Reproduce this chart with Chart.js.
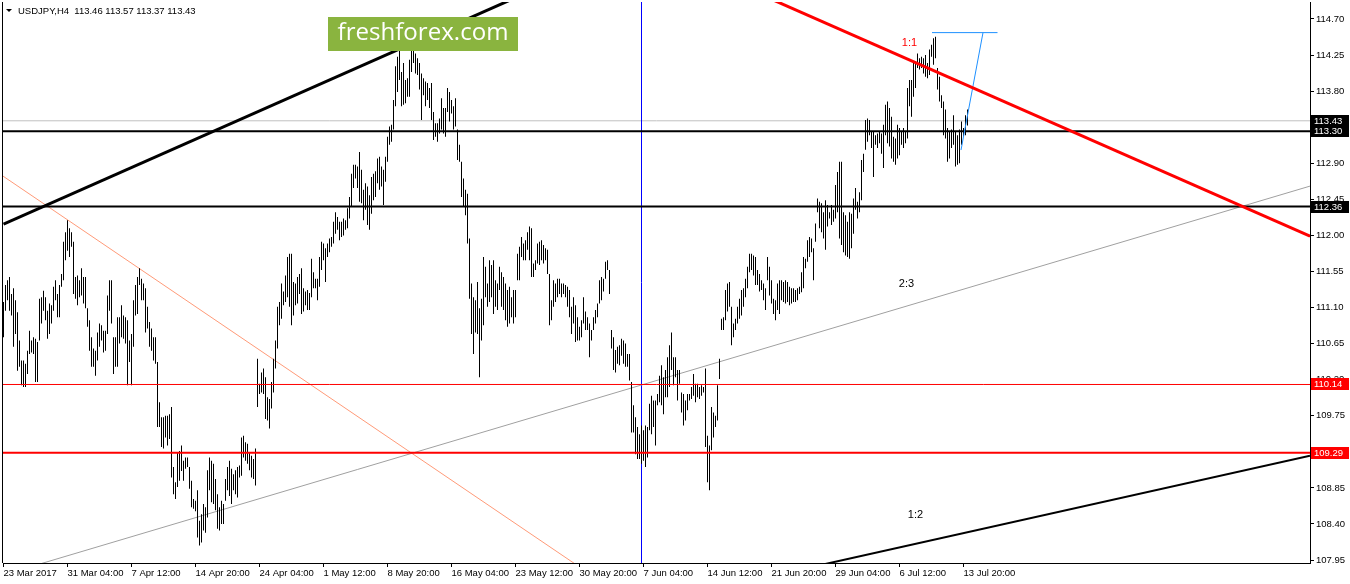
<!DOCTYPE html>
<html>
<head>
<meta charset="utf-8">
<script src="https://cdn.jsdelivr.net/npm/chart.js@4/dist/chart.umd.min.js"></script>
<style>
html, body { margin: 0; padding: 0; background: #fff; }
#wrap { width: 1350px; height: 584px; }
</style>
</head>
<body>
<div id="wrap"><canvas id="usdjpy"></canvas></div>
<script>
// USDJPY H4 bars, high / low per bar
const highs = [
  111.17,111.38,111.44,111.48,111.27,111.34,111.19,111.04,110.69,110.44,
  110.44,110.40,110.56,110.81,110.69,110.73,110.71,110.67,111.21,111.23,
  111.31,111.23,111.06,111.15,111.13,111.36,111.44,111.27,111.38,111.52,
  111.92,112.04,112.19,112.09,112.04,111.92,111.48,111.50,111.44,111.59,
  111.48,111.48,111.09,110.94,110.73,110.59,110.56,110.79,110.90,110.88,
  110.81,110.81,111.25,111.44,111.44,110.73,110.73,110.98,110.98,111.13,
  111.00,110.98,110.94,110.69,110.77,111.19,111.38,111.48,111.59,111.46,
  111.40,111.34,111.11,110.92,110.84,110.73,110.73,110.42,109.92,109.73,
  109.73,109.75,109.75,109.77,109.86,109.11,108.92,109.29,109.31,109.38,
  109.19,109.23,109.23,109.11,108.94,108.71,108.69,
  108.82,108.44,108.52,108.65,108.61,109.07,109.23,109.19,109.15,108.96,
  108.77,108.61,108.69,108.65,108.96,109.11,109.19,109.09,109.02,109.07,
  109.11,109.13,109.48,109.50,109.42,109.40,109.29,109.25,109.21,109.34,
  110.46,110.15,110.29,110.34,110.23,109.98,109.96,110.17,110.46,110.69,
  111.11,111.17,111.40,111.30,111.50,111.73,111.77,111.77,111.42,111.40,
  111.48,111.52,111.59,111.34,111.30,111.32,111.28,111.71,111.54,111.46,
  111.46,111.73,111.92,111.90,111.84,111.90,111.96,111.98,112.17,112.29,
  112.23,112.17,112.17,112.21,112.19,112.34,112.48,112.77,112.88,112.88,
  112.86,113.04,112.82,112.57,112.65,112.61,112.50,112.73,112.77,112.80,
  112.96,112.98,112.86,112.82,112.98,113.23,113.36,113.38,113.69,
  114.11,114.23,114.32,114.04,114.15,113.94,113.96,114.19,114.32,114.32,
  114.27,114.21,114.15,114.02,113.96,113.92,113.90,113.84,113.90,113.54,
  113.40,113.40,113.46,113.71,113.59,113.59,113.84,113.79,113.69,113.61,
  113.71,113.32,113.13,112.92,112.71,112.57,112.52,111.96,111.40,111.23,
  111.19,111.42,111.09,111.21,111.73,111.61,111.40,111.69,111.63,111.69,
  111.44,111.40,111.61,111.54,111.48,111.40,111.32,111.36,111.23,111.32,
  111.32,111.77,111.86,111.98,111.90,111.94,112.04,112.11,112.09,111.65,
  111.69,111.90,111.92,111.94,111.88,111.84,111.82,111.52,111.19,111.44,
  111.40,111.46,111.46,111.40,111.40,111.38,111.36,111.32,111.11,111.23,
  111.13,110.98,110.86,110.94,111.23,111.05,110.98,110.90,
  110.82,110.98,111.07,111.15,111.44,111.48,111.46,111.67,111.69,111.57,
  110.82,110.73,110.57,110.61,110.63,110.71,110.69,110.65,110.52,110.52,
  110.17,109.88,109.73,109.61,109.52,109.63,109.57,109.63,109.61,109.90,
  110.00,109.94,109.94,110.02,110.25,110.38,110.23,110.32,110.48,110.63,
  110.79,110.48,110.48,110.32,110.32,110.04,110.02,109.94,110.02,110.02,
  110.11,110.27,110.15,110.15,110.11,110.13,110.11,110.34,109.50,109.38,
  109.86,109.79,109.75,110.13,110.46,110.96,110.98,111.32,111.40,111.42,
  111.11,110.90,110.96,111.11,111.21,111.32,111.34,111.46,111.61,111.77,
  111.77,111.75,111.73,111.57,111.52,111.44,111.40,111.34,111.73,111.61,
  111.44,111.21,111.19,111.40,111.44,111.44,
  111.42,111.44,111.42,111.36,111.34,111.34,111.32,111.34,111.36,111.54,
  111.73,111.71,111.94,111.98,111.96,111.84,112.15,112.46,112.42,112.40,
  112.29,112.44,112.38,112.29,112.38,112.32,112.63,112.79,112.92,112.92,
  112.29,112.25,112.17,112.29,112.27,112.46,112.59,112.42,112.54,112.94,
  113.02,113.44,113.46,113.44,113.29,113.29,113.25,113.27,113.29,113.27,
  113.38,113.63,113.67,113.59,113.48,113.23,113.21,113.38,113.34,113.29,
  113.34,113.29,113.84,113.94,113.94,114.15,114.17,114.27,114.21,114.23,
  114.21,114.25,114.15,114.32,114.38,114.46,114.48,114.09,113.98,113.75,
  113.67,113.57,113.34,113.29,113.32,113.50,113.29,113.25,113.32,113.42,
  113.34,113.50,113.57
];
const lows = [
  110.73,111.06,111.19,111.06,111.00,110.61,110.77,110.31,110.36,110.13,
  110.11,110.11,110.27,110.52,110.54,110.52,110.17,110.17,110.69,110.90,
  111.06,110.94,110.71,110.77,110.90,111.06,111.19,110.98,110.98,111.36,
  111.44,111.69,111.81,111.73,111.86,111.27,111.21,111.13,111.23,111.25,
  111.15,111.09,110.86,110.56,110.36,110.36,110.25,110.44,110.61,110.69,
  110.54,110.56,110.77,111.06,110.90,110.27,110.36,110.36,110.65,110.73,
  110.71,110.65,110.13,110.42,110.13,110.61,111.00,111.02,111.38,111.19,
  111.19,110.79,110.84,110.61,110.56,110.44,110.40,109.61,109.61,109.36,
  109.34,109.48,109.38,109.46,108.98,108.77,108.71,108.86,108.94,109.06,
  108.94,109.09,109.11,108.84,108.61,108.59,108.56,
  108.23,108.13,108.17,108.32,108.29,108.48,108.82,108.67,108.65,108.57,
  108.34,108.32,108.40,108.40,108.69,108.82,108.75,108.65,108.82,108.77,
  108.73,108.98,109.00,109.23,109.19,109.15,109.07,108.98,108.96,108.88,
  109.86,110.02,110.04,110.02,109.71,109.69,109.59,109.84,110.04,110.34,
  110.59,110.88,110.96,111.13,111.17,111.23,111.11,110.88,111.00,111.13,
  111.15,111.27,111.02,111.05,111.13,111.07,111.07,111.23,111.34,111.34,
  111.19,111.36,111.57,111.69,111.42,111.73,111.79,111.86,111.90,112.02,
  112.07,111.94,111.98,112.00,112.07,112.09,112.21,112.36,112.59,112.71,
  112.59,112.42,112.40,112.19,112.32,112.13,112.07,112.27,112.44,112.48,
  112.65,112.57,112.61,112.38,112.67,112.92,113.13,113.17,113.32,
  113.61,113.79,113.94,113.61,113.63,113.65,113.73,113.73,114.04,114.15,
  114.02,114.00,113.82,113.44,113.75,113.61,113.69,113.59,113.44,113.19,
  113.23,113.17,113.27,113.32,113.27,113.23,113.54,113.42,113.52,113.32,
  113.36,112.94,112.92,112.48,112.36,112.25,111.90,111.21,110.77,110.52,
  110.79,110.77,110.23,110.69,110.88,111.23,111.11,111.17,111.23,111.02,
  111.11,111.07,111.32,111.11,111.07,110.94,110.86,110.90,110.98,110.90,
  110.98,111.44,111.44,111.73,111.69,111.69,111.82,111.69,111.48,111.48,
  111.57,111.65,111.63,111.69,111.65,111.69,111.52,110.88,110.94,111.11,
  111.17,111.23,111.27,111.23,111.27,111.23,111.11,110.98,110.77,110.90,
  110.67,110.69,110.69,110.73,110.90,110.82,110.82,110.48,
  110.69,110.82,110.90,110.98,111.15,111.19,111.30,111.46,111.57,111.27,
  110.59,110.32,110.29,110.40,110.38,110.50,110.40,110.36,110.36,110.19,
  109.54,109.54,109.27,109.21,109.21,109.15,109.19,109.11,109.23,109.57,
  109.52,109.61,109.38,109.88,109.92,109.88,109.77,109.98,109.98,110.11,
  110.32,110.13,110.23,109.94,110.15,109.79,109.63,109.69,109.82,109.94,
  109.96,110.00,109.92,109.98,109.96,110.00,110.04,109.36,108.92,108.82,
  109.32,109.48,109.61,109.69,110.21,110.82,110.82,110.94,111.05,111.11,
  110.63,110.73,110.82,110.90,110.96,111.00,111.11,111.23,111.34,111.54,
  111.57,111.50,111.38,111.38,111.30,111.32,111.19,111.07,111.44,111.25,
  111.15,111.02,110.94,111.07,111.02,111.19,
  111.17,111.15,111.17,111.13,111.15,111.17,111.17,111.19,111.27,111.29,
  111.34,111.59,111.67,111.73,111.79,111.44,111.92,112.29,112.09,112.04,
  111.96,111.82,112.11,112.21,112.13,112.17,112.21,112.29,111.96,111.88,
  111.79,111.75,111.73,111.71,111.84,112.02,112.32,112.21,112.29,112.44,
  112.79,113.07,113.17,113.25,113.09,112.73,113.13,113.09,113.15,113.02,
  112.84,113.25,113.15,113.11,112.96,112.92,112.88,112.96,113.00,113.13,
  113.09,113.15,113.21,113.61,113.48,113.73,113.84,114.09,114.07,114.09,
  114.02,113.98,113.96,114.00,114.23,114.13,114.21,113.82,113.67,113.59,
  113.25,113.21,112.92,112.96,113.09,113.13,112.86,112.88,112.90,113.13,
  113.23,113.25,113.37
];

// time axis: a label every 32 bars
const xTickIdx = [0, 32, 64, 96, 128, 160, 192, 224, 256, 288, 320, 352, 384, 416, 448, 480];
const xTickLabels = ['23 Mar 2017', '31 Mar 04:00', '7 Apr 12:00', '14 Apr 20:00', '24 Apr 04:00',
  '1 May 12:00', '8 May 20:00', '16 May 04:00', '23 May 12:00', '30 May 20:00', '7 Jun 04:00',
  '14 Jun 12:00', '21 Jun 20:00', '29 Jun 04:00', '6 Jul 12:00', '13 Jul 20:00'];
const yTicks = [107.95, 108.40, 108.85, 109.30, 109.75, 110.20, 110.65, 111.10, 111.55,
  112.00, 112.45, 112.90, 113.35, 113.80, 114.25, 114.70];

// horizontal levels and the bid line
const levelPrices = [113.30, 112.36, 110.14, 109.29];
const levelColors = ['#000000', '#000000', '#ff0000', '#ff0000'];
const levelWidths = [2, 2, 1, 2];
const bidPrice = 113.43;
const titleText = 'USDJPY,H4  113.46 113.57 113.37 113.43';

const font = 'Liberation Sans';
const X_MIN = -0.25, X_MAX = 653.25;

function seg(points, color, width, order) {
  return {
    type: 'line',
    data: points.map(([x, y]) => ({ x, y })),
    borderColor: color,
    borderWidth: width,
    pointRadius: 0,
    fill: false,
    tension: 0,
    order: order
  };
}

const datasets = [
  {
    type: 'bar',
    data: highs.map((h, i) => ({ x: i, y: [lows[i], h] })),
    backgroundColor: '#000000',
    borderWidth: 0,
    barThickness: 1,
    inflateAmount: 0,
    grouped: false,
    order: 10
  },
  // thin lines behind the bars
  seg([[10, 107.84], [653.25, 112.615]], '#a0a0a0', 1, 20),
  seg([[-0.25, 112.74], [290, 107.83]], '#ff9a78', 1, 20),
  seg([[319, 107], [319, 116]], '#0000ff', 1, 20),
  seg([[X_MIN, bidPrice], [X_MAX, bidPrice]], '#c0c0c0', 1, 20),
  // trend lines and levels on top
  seg([[0, 112.14], [270, 115.12]], '#000000', 3, 0),
  seg([[380, 114.99], [653.25, 111.99]], '#ff0000', 3, 0),
  seg([[400, 107.84], [653.25, 109.25]], '#000000', 2, 0),
  seg([[464.25, 114.53], [497, 114.53]], '#1e90ff', 1, 0),
  seg([[478.75, 113.065], [489.75, 114.53]], '#1e90ff', 1, 0)
];
levelPrices.forEach((p, k) => {
  datasets.push(seg([[X_MIN, p], [X_MAX, p]], levelColors[k], levelWidths[k], 1));
});

const notes = [
  { text: '1:1', x: 453, y: 114.40, color: '#ff0000' },
  { text: '2:3', x: 451.5, y: 111.39, color: '#000000' },
  { text: '1:2', x: 456, y: 108.515, color: '#000000' }
];

const overlay = {
  id: 'overlay',
  afterDraw(chart) {
    const { ctx, chartArea: a, scales: { x, y } } = chart;
    ctx.save();
    // left frame edge
    ctx.fillStyle = '#000';
    ctx.fillRect(a.left - 1, a.top, 1, a.bottom - a.top);

    // ratio notes
    ctx.font = '11px "' + font + '"';
    ctx.textAlign = 'center';
    ctx.textBaseline = 'middle';
    notes.forEach(n => {
      ctx.fillStyle = n.color;
      ctx.fillText(n.text, x.getPixelForValue(n.x), y.getPixelForValue(n.y));
    });

    // title
    ctx.fillStyle = '#000';
    ctx.beginPath();
    ctx.moveTo(6, 9); ctx.lineTo(12, 9); ctx.lineTo(9, 12); ctx.closePath();
    ctx.fill();
    ctx.font = '9.5px "' + font + '"';
    ctx.textAlign = 'left';
    ctx.fillText(titleText, 18, 11);

    // watermark
    ctx.fillStyle = '#8ab43f';
    ctx.fillRect(328, 17, 190, 34);
    ctx.fillStyle = '#ffffff';
    let size = 26;
    ctx.font = size + 'px "Open Sans"';
    const w = ctx.measureText('freshforex.com').width;
    size = size * 171 / w;
    ctx.font = size + 'px "Open Sans"';
    ctx.textAlign = 'center';
    ctx.fillText('freshforex.com', 423, 33);

    // price boxes on the right axis
    const boxes = [[bidPrice, '#000000']].concat(levelPrices.map((p, k) => [p, levelColors[k]]));
    ctx.font = '9.5px "' + font + '"';
    ctx.textAlign = 'left';
    boxes.forEach(([p, c]) => {
      const py = Math.round(y.getPixelForValue(p));
      ctx.fillStyle = c;
      ctx.fillRect(a.right + 1, py - 6, 38, 12);
      ctx.fillStyle = '#ffffff';
      ctx.fillText(p.toFixed(2), a.right + 4, py + 0.5);
    });
    ctx.restore();
  }
};

new Chart(document.getElementById('usdjpy'), {
  data: { datasets },
  options: {
    responsive: true,
    maintainAspectRatio: false,
    devicePixelRatio: 1,
    animation: false,
    events: [],
    layout: { padding: { left: 3, top: 2, right: 0, bottom: 0 } },
    plugins: { legend: { display: false }, tooltip: { enabled: false } },
    scales: {
      x: {
        type: 'linear',
        offset: false,
        min: X_MIN,
        max: X_MAX,
        afterBuildTicks: s => { s.ticks = xTickIdx.map(v => ({ value: v })); },
        afterFit: s => { s.height = 21; s.paddingLeft = 0; s.paddingRight = 0; },
        ticks: {
          callback: (v, idx) => xTickLabels[idx],
          align: 'start',
          maxRotation: 0,
          autoSkip: false,
          padding: 1,
          color: '#000',
          font: { family: font, size: 9.5 }
        },
        grid: { offset: false, drawOnChartArea: false, drawTicks: true, tickLength: 4, color: '#000' },
        border: { color: '#000', width: 1 }
      },
      y: {
        position: 'right',
        min: 107.913,
        max: 114.912,
        afterBuildTicks: s => { s.ticks = yTicks.map(v => ({ value: v })); },
        afterFit: s => { s.width = 40; s.paddingTop = 0; s.paddingBottom = 0; },
        ticks: {
          callback: v => v.toFixed(2),
          autoSkip: false,
          padding: 2,
          color: '#000',
          font: { family: font, size: 9.5 }
        },
        grid: { drawOnChartArea: false, drawTicks: true, tickLength: 4, color: '#000' },
        border: { color: '#000', width: 1 }
      }
    }
  },
  plugins: [overlay]
});
</script>
</body>
</html>
